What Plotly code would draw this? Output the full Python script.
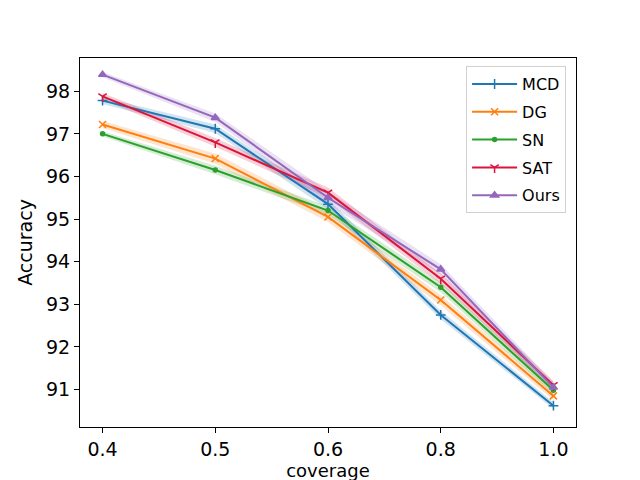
import plotly.graph_objects as go

coverage = ["0.4", "0.5", "0.6", "0.8", "1.0"]

methods = ["MCD", "DG", "SN", "SAT", "Ours"]
mcd = [97.78, 97.12, 95.35, 92.75, 90.62]
dg = [97.22, 96.42, 95.05, 93.1, 90.85]
sn = [97.0, 96.15, 95.2, 93.4, 90.98]
sat = [97.88, 96.8, 95.62, 93.6, 91.1]
ours = [98.39, 97.38, 95.5, 93.82, 91.05]

# spread shown as light band around each line
mcd_std = [0.08, 0.1, 0.12, 0.1, 0.08]
dg_std = [0.08, 0.12, 0.12, 0.12, 0.1]
sn_std = [0.06, 0.1, 0.1, 0.12, 0.1]
sat_std = [0.08, 0.1, 0.12, 0.12, 0.1]
ours_std = [0.06, 0.1, 0.15, 0.12, 0.12]

colors = ["#1f77b4", "#ff7f0e", "#2ca02c", "#dc143c", "#9467bd"]
fills = ["rgba(31,119,180,0.2)", "rgba(255,127,14,0.2)", "rgba(44,160,44,0.2)",
         "rgba(220,20,60,0.2)", "rgba(148,103,189,0.2)"]
symbols = ["cross-thin-open", "x-thin-open", "circle", "y-down-open", "triangle-up"]
sizes = [7, 7, 4, 7, 7]

series = [mcd, dg, sn, sat, ours]
stds = [mcd_std, dg_std, sn_std, sat_std, ours_std]

fig = go.Figure()

for name, ys, sd, c, fc, sym, sz in zip(methods, series, stds, colors, fills, symbols, sizes):
    upper = [y + s for y, s in zip(ys, sd)]
    lower = [y - s for y, s in zip(ys, sd)]
    fig.add_trace(go.Scatter(x=coverage, y=upper, mode="lines", line=dict(width=0),
                             showlegend=False, hoverinfo="skip", legendgroup=name))
    fig.add_trace(go.Scatter(x=coverage, y=lower, mode="lines", line=dict(width=0),
                             fill="tonexty", fillcolor=fc, showlegend=False,
                             hoverinfo="skip", legendgroup=name))

for name, ys, c, sym, sz in zip(methods, series, colors, symbols, sizes):
    fig.add_trace(go.Scatter(
        x=coverage, y=ys, name=name, mode="lines+markers", legendgroup=name,
        line=dict(color=c, width=2),
        marker=dict(symbol=sym, size=sz, color=c, line=dict(color=c, width=1.5)),
    ))

# page body has an 8px margin, so the margins are shifted to compensate
fig.update_layout(
    width=640, height=480, autosize=False,
    paper_bgcolor="white", plot_bgcolor="white",
    margin=dict(l=72, r=72, t=50, b=61),
    font=dict(family="DejaVu Sans", size=19, color="black"),
    legend=dict(
        x=0.98, y=0.978, xanchor="right", yanchor="top",
        bgcolor="rgba(255,255,255,0.8)", bordercolor="#d0d0d0", borderwidth=1,
        font=dict(size=16), tracegroupgap=4, traceorder="grouped", itemwidth=45,
    ),
)

fig.update_xaxes(
    type="category", range=[-0.2, 4.2],
    showline=True, linecolor="black", linewidth=1, mirror=True,
    ticks="outside", ticklen=5, tickcolor="black", showgrid=False,
    title=dict(text="coverage", font=dict(size=18), standoff=0),
)
fig.update_yaxes(
    range=[90.12, 98.78], tickvals=[91, 92, 93, 94, 95, 96, 97, 98],
    showline=True, linecolor="black", linewidth=1, mirror=True,
    ticks="outside", ticklen=5, tickcolor="black", showgrid=False, zeroline=False,
    title=dict(text="Accuracy", font=dict(size=19), standoff=8),
)

fig.write_html("out.html")
